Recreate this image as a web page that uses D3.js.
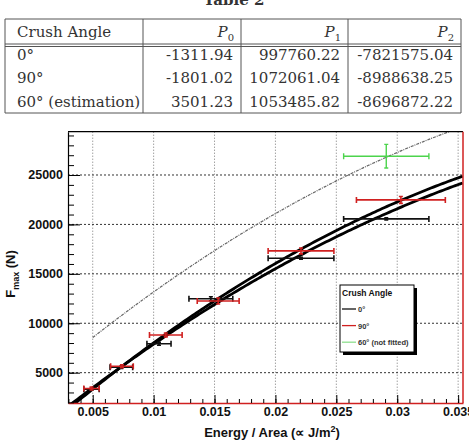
<!DOCTYPE html>
<html>
<head>
<meta charset="utf-8">
<script src="https://cdn.jsdelivr.net/npm/d3@7"></script>
<style>
  body { margin: 0; background: #fff; }
  svg { display: block; }
  .tbl { font-family: "DejaVu Serif", serif; font-size: 15px; fill: #333; }
  .ax text { font-family: "Liberation Sans", Arial, sans-serif; font-weight: bold; font-size: 12.5px; fill: #111; }
  .lab { font-family: "Liberation Sans", Arial, sans-serif; font-weight: bold; fill: #111; }
</style>
</head>
<body>
<div id="chart"></div>
<script>
// table values (fit coefficients)
var angles = ["0°", "90°", "60° (estimation)"];
var p0 = [-1311.94, -1801.02, 3501.23];
var p1 = [997760.22, 1072061.04, 1053485.82];
var p2 = [-7821575.04, -8988638.25, -8696872.22];
var p0Text = ["-1311.94", "-1801.02", "3501.23"];
var p1Text = ["997760.22", "1072061.04", "1053485.82"];
var p2Text = ["-7821575.04", "-8988638.25", "-8696872.22"];

// measured points, 0 deg (black)
var e0 = [0.0049, 0.00735, 0.01044, 0.0147, 0.0221, 0.0291];
var f0 = [3330, 5560, 7930, 12480, 16580, 20560];
var ex0 = [0.00063, 0.00093, 0.00099, 0.0018, 0.0027, 0.0035];
var ey0 = [100, 120, 150, 200, 100, 100];
// 90 deg (red)
var e90 = [0.0049, 0.0074, 0.011, 0.0153, 0.0221, 0.0303];
var f90 = [3400, 5650, 8820, 12250, 17320, 22480];
var ex90 = [0.00063, 0.00093, 0.00134, 0.00172, 0.0027, 0.00365];
var ey90 = [150, 150, 200, 300, 300, 350];
// 60 deg (green, not fitted)
var e60 = [0.0291];
var f60 = [26900];
var ex60 = [0.0035];
var ey60 = [1200];

var xTicks = [0.005, 0.01, 0.015, 0.02, 0.025, 0.03, 0.035];
var yTicks = [5000, 10000, 15000, 20000, 25000];
var legendLabels = ["0°", "90°", "60° (not fitted)"];

var W = 469, H = 442;
var svg = d3.select("#chart").append("svg").attr("width", W).attr("height", H);

// ---- table ----
svg.append("text").attr("x", 234).attr("y", 5).attr("text-anchor", "middle")
    .attr("class", "tbl").style("font-weight", "bold").style("font-size", "15px").text("Table 2");

var colX = [5, 143, 241, 348, 461];
var rowY = [60, 83, 107];
var tg = svg.append("g").attr("stroke", "#555").attr("stroke-width", 1);
[19, 44, 46.5, 113].forEach(function(y) {
    tg.append("line").attr("x1", 5).attr("x2", 461).attr("y1", y).attr("y2", y);
});
colX.forEach(function(x) {
    tg.append("line").attr("x1", x).attr("x2", x).attr("y1", 19).attr("y2", 113);
});
svg.append("text").attr("class", "tbl").attr("x", 17).attr("y", 37).text("Crush Angle");
[0, 1, 2].forEach(function(i) {
    var t = svg.append("text").attr("class", "tbl").attr("x", colX[i + 2] - 7).attr("y", 37)
        .attr("text-anchor", "end");
    t.append("tspan").style("font-style", "italic").text("P");
    t.append("tspan").attr("dy", 4).style("font-size", "10px").text(i);
});
angles.forEach(function(a, i) {
    svg.append("text").attr("class", "tbl").attr("x", 17).attr("y", rowY[i]).text(a);
    [p0Text[i], p1Text[i], p2Text[i]].forEach(function(v, j) {
        svg.append("text").attr("class", "tbl").attr("x", colX[j + 2] - 8).attr("y", rowY[i])
            .attr("text-anchor", "end").text(v);
    });
});

// ---- plot ----
var L = 68, R = 463, T = 131.7, B = 403;
var x = d3.scaleLinear().domain([0.00297, 0.0354]).range([L, R]);
var y = d3.scaleLinear().domain([1933, 29380]).range([B, T]);

svg.append("clipPath").attr("id", "clip").append("rect")
    .attr("x", L).attr("y", T).attr("width", R - L).attr("height", B - T);

// grid
var grid = svg.append("g");
xTicks.forEach(function(v) {
    grid.append("line").attr("x1", x(v)).attr("x2", x(v)).attr("y1", T).attr("y2", B)
        .attr("stroke", "#777").attr("stroke-dasharray", "1,2");
});
yTicks.forEach(function(v) {
    grid.append("line").attr("x1", L).attr("x2", R).attr("y1", y(v)).attr("y2", y(v))
        .attr("stroke", "#333").attr("stroke-dasharray", "2,2");
});

// fit curves
var plot = svg.append("g").attr("clip-path", "url(#clip)");
function poly(i) {
    return function(e) { return p0[i] + p1[i] * e + p2[i] * e * e; };
}
var line = d3.line().x(function(d) { return x(d[0]); }).y(function(d) { return y(d[1]); });
[0, 1].forEach(function(i) {
    var f = poly(i);
    var pts = d3.range(0.00297, 0.0355, 0.0002).map(function(e) { return [e, f(e)]; });
    plot.append("path").attr("d", line(pts)).attr("fill", "none")
        .attr("stroke", "#000").attr("stroke-width", 2.8);
});
(function() {
    var f = poly(2);
    var pts = d3.range(0.005, 0.0355, 0.0002).map(function(e) { return [e, f(e)]; });
    plot.append("path").attr("d", line(pts)).attr("fill", "none")
        .attr("stroke", "#666").attr("stroke-width", 1.2).attr("stroke-dasharray", "3,1,1,1");
})();

// error bars
function errBars(es, fs, exs, eys, color, w) {
    var g = plot.append("g").attr("stroke", color).attr("stroke-width", w);
    es.forEach(function(e, i) {
        var cy = y(fs[i]), x1 = x(e - exs[i]), x2 = x(e + exs[i]);
        var cx = x(e), y1 = y(fs[i] + eys[i]), y2 = y(fs[i] - eys[i]);
        g.append("line").attr("x1", x1).attr("x2", x2).attr("y1", cy).attr("y2", cy);
        g.append("line").attr("x1", x1).attr("x2", x1).attr("y1", cy - 3).attr("y2", cy + 3);
        g.append("line").attr("x1", x2).attr("x2", x2).attr("y1", cy - 3).attr("y2", cy + 3);
        g.append("line").attr("x1", cx).attr("x2", cx).attr("y1", y1).attr("y2", y2);
        g.append("line").attr("x1", cx - 2).attr("x2", cx + 2).attr("y1", y1).attr("y2", y1);
        g.append("line").attr("x1", cx - 2).attr("x2", cx + 2).attr("y1", y2).attr("y2", y2);
    });
}
errBars(e0, f0, ex0, ey0, "#111", 1.6);
errBars(e90, f90, ex90, ey90, "#d02020", 1.6);
errBars(e60, f60, ex60, ey60, "#4cd44c", 1.4);

// axes
var fmtX = function(d) { return String(+d.toFixed(3)); };
var xAxis = svg.append("g").attr("class", "ax").attr("transform", "translate(0," + B + ")")
    .call(d3.axisBottom(x).tickValues(xTicks).tickFormat(fmtX).tickSize(-8).tickSizeOuter(0).tickPadding(4));
svg.append("g").attr("transform", "translate(0," + B + ")")
    .call(d3.axisBottom(x).tickValues(d3.range(3, 36).map(function(k) { return k / 1000; }))
        .tickFormat("").tickSize(-4).tickSizeOuter(0))
    .select(".domain").remove();
xAxis.select(".domain").attr("stroke", "#d02020").attr("stroke-width", 1.5);

var yAxis = svg.append("g").attr("class", "ax").attr("transform", "translate(" + L + ",0)")
    .call(d3.axisLeft(y).tickValues(yTicks).tickFormat(d3.format("d")).tickSize(-12).tickSizeOuter(0).tickPadding(5));
svg.append("g").attr("transform", "translate(" + L + ",0)")
    .call(d3.axisLeft(y).tickValues(d3.range(2, 30).map(function(k) { return k * 1000; }))
        .tickFormat("").tickSize(-6).tickSizeOuter(0))
    .select(".domain").remove();
yAxis.select(".domain").attr("stroke", "#000").attr("stroke-width", 1.2);

// frame top/right
svg.append("line").attr("x1", L).attr("x2", R).attr("y1", T).attr("y2", T).attr("stroke", "#000").attr("stroke-width", 1.2);
svg.append("line").attr("x1", R).attr("x2", R).attr("y1", T).attr("y2", B).attr("stroke", "#d02020").attr("stroke-width", 1.5);

// axis titles
var xt = svg.append("text").attr("class", "lab").attr("x", 272).attr("y", 437)
    .attr("text-anchor", "middle").style("font-size", "13px");
xt.append("tspan").text("Energy / Area (\u221D J/m");
xt.append("tspan").attr("dy", -5).style("font-size", "9px").text("2");
xt.append("tspan").attr("dy", 5).text(")");

var yt = svg.append("text").attr("class", "lab").attr("transform", "translate(15,274) rotate(-90)")
    .attr("text-anchor", "middle").style("font-size", "13px");
yt.append("tspan").text("F");
yt.append("tspan").attr("dy", 4).style("font-size", "9px").text("max");
yt.append("tspan").attr("dy", -4).text(" (N)");

// legend
var lg = svg.append("g");
lg.append("rect").attr("x", 343).attr("y", 288).attr("width", 74).attr("height", 67).attr("fill", "#000");
lg.append("rect").attr("x", 340).attr("y", 285).attr("width", 74).attr("height", 67)
    .attr("fill", "#fff").attr("stroke", "#000").attr("stroke-width", 1);
lg.append("text").attr("class", "lab").attr("x", 342).attr("y", 296).style("font-size", "8.5px").text("Crush Angle");
var legColors = ["#111", "#d02020", "#8ee08e"];
legendLabels.forEach(function(t, i) {
    var yy = 309 + i * 16.6;
    lg.append("line").attr("x1", 342).attr("x2", 356).attr("y1", yy).attr("y2", yy)
        .attr("stroke", legColors[i]).attr("stroke-width", 1.3);
    lg.append("text").attr("class", "lab").attr("x", 358).attr("y", yy + 3)
        .style("font-size", "7.5px").style("fill", "#333").text(t);
});
</script>
</body>
</html>
